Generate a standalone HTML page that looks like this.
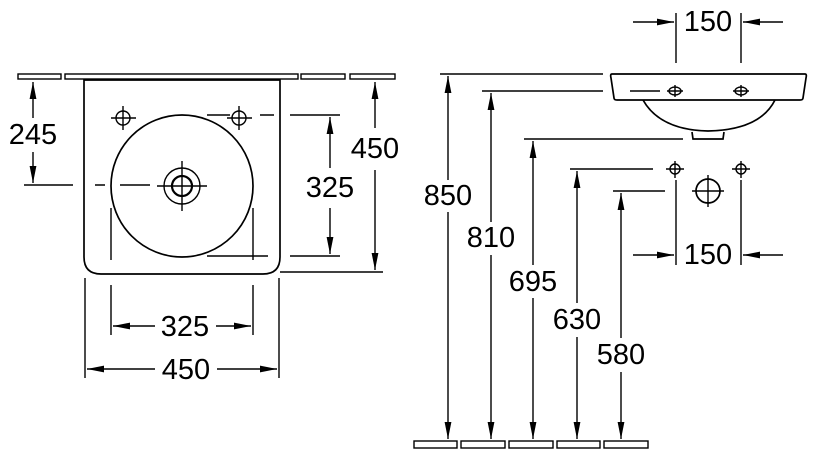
<!DOCTYPE html>
<html><head><meta charset="utf-8"><style>
html,body{margin:0;padding:0;background:#fff}
svg{display:block}
text{font-family:"Liberation Sans",sans-serif;font-size:29px;fill:#000;text-anchor:middle;dominant-baseline:central}
</style></head><body>
<svg width="821" height="471" viewBox="0 0 821 471" xmlns="http://www.w3.org/2000/svg">
<defs>
<marker id="a" markerWidth="17" markerHeight="8" refX="17" refY="4" orient="auto" markerUnits="userSpaceOnUse">
<path d="M0,0.6 L17,4 L0,7.4 Z" fill="#000"/></marker>
</defs>
<g fill="none" stroke="#000" stroke-width="1.4">
<rect x="18" y="74" width="43" height="5"/>
<rect x="65" y="74" width="233" height="5"/>
<rect x="301" y="74" width="44" height="5"/>
<rect x="350" y="74" width="45" height="5"/>
<path d="M84,80 L280,80 L280,257 Q280,274 263,274 L101,274 Q84,274 84,257 Z" stroke-width="1.7"/>
<circle cx="182" cy="186" r="71" stroke-width="1.7"/>
<circle cx="182" cy="186" r="10" stroke-width="2.2"/>
<circle cx="182" cy="186" r="18"/>
<path d="M182,161 V211 M157,186 H207"/>
<circle cx="123" cy="118" r="7"/><path d="M123,106 V130 M111,118 H136"/>
<circle cx="239" cy="118" r="7"/><path d="M239,106 V130 M227,118 H252"/>
<path d="M207,115 H230 M260,115 H274" />
<path d="M24,185 H73 M95,185 H105 M120,185 H150"/>
<path d="M111,208 V260 M253,208 V260 M207,256 H268"/>
<path d="M33,118 V82" marker-end="url(#a)"/>
<path d="M33,152 V183" marker-end="url(#a)"/>
<path d="M290,115 H340 M290,256 H340"/>
<path d="M330,168 V117" marker-end="url(#a)"/>
<path d="M330,208 V254" marker-end="url(#a)"/>
<path d="M280,272 H383"/>
<path d="M375,128 V82" marker-end="url(#a)"/>
<path d="M375,170 V270" marker-end="url(#a)"/>
<path d="M111,285 V335 M253,285 V335 M85,278 V378 M279,278 V378"/>
<path d="M155,326 H113" marker-end="url(#a)"/>
<path d="M216,326 H251" marker-end="url(#a)"/>
<path d="M155,369 H87" marker-end="url(#a)"/>
<path d="M217,369 H277" marker-end="url(#a)"/>
<path d="M676,13 V63 M741,13 V63"/>
<path d="M633,22 H674" marker-end="url(#a)"/>
<path d="M783,22 H743" marker-end="url(#a)"/>
<path d="M612,74 L805,74 Q807,74 806,78 L803,98 Q803,100 800,100 L617,100 Q614,100 614,98 L611,78 Q610,74 612,74 Z" stroke-width="1.7"/>
<path d="M643,100 Q660,130 708,131 Q760,130 775,100" stroke-width="1.7"/>
<path d="M692,132 L693,139 L723,139 L724,132" stroke-width="1.7"/>
<path d="M630,91 H660"/>
<ellipse cx="675" cy="91" rx="6" ry="4"/><path d="M675,85 V97 M667,91 H683"/>
<ellipse cx="741" cy="91" rx="6" ry="4"/><path d="M741,85 V97 M733,91 H749"/>
<path d="M440,74 H603 M482,91 H603 M524,139 H683 M570,169 H653 M613,191 H665"/>
<circle cx="675" cy="169" r="5"/><path d="M675,161 V178 M666,169 H684"/>
<circle cx="741" cy="169" r="5"/><path d="M741,161 V178 M732,169 H750"/>
<circle cx="708" cy="191" r="12" stroke-width="1.7"/><path d="M708,175 V207 M692,191 H724"/>
<path d="M676,180 V265 M741,180 V265"/>
<path d="M633,255 H674" marker-end="url(#a)"/>
<path d="M783,255 H743" marker-end="url(#a)"/>
<path d="M448,180 V76" marker-end="url(#a)"/><path d="M448,212 V439" marker-end="url(#a)"/>
<path d="M491,222 V93" marker-end="url(#a)"/><path d="M491,255 V439" marker-end="url(#a)"/>
<path d="M533,265 V141" marker-end="url(#a)"/><path d="M533,298 V439" marker-end="url(#a)"/>
<path d="M577,303 V171" marker-end="url(#a)"/><path d="M577,337 V439" marker-end="url(#a)"/>
<path d="M621,338 V193" marker-end="url(#a)"/><path d="M621,372 V439" marker-end="url(#a)"/>
<rect x="414" y="441" width="43" height="7"/>
<rect x="461" y="441" width="44" height="7"/>
<rect x="509" y="441" width="44" height="7"/>
<rect x="557" y="441" width="43" height="7"/>
<rect x="604" y="441" width="44" height="7"/>
</g>
<text x="33" y="135">245</text>
<text x="330" y="188">325</text>
<text x="375" y="149">450</text>
<text x="185" y="327">325</text>
<text x="186" y="370">450</text>
<text x="708" y="22">150</text>
<text x="708" y="255">150</text>
<text x="448" y="196">850</text>
<text x="491" y="238">810</text>
<text x="533" y="282">695</text>
<text x="577" y="320">630</text>
<text x="621" y="355">580</text>
</svg>
</body></html>
